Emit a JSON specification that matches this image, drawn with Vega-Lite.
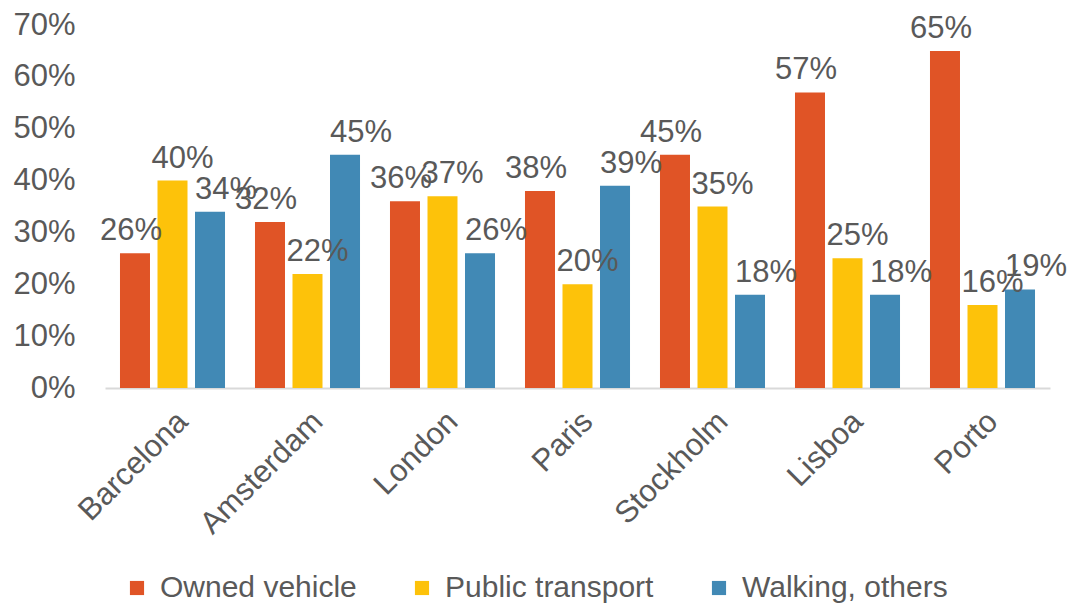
{
  "$schema": "https://vega.github.io/schema/vega-lite/v6.json",
  "autosize": {"type": "none"},
  "padding": {"left": 105, "top": 25, "right": 21, "bottom": 216},
  "width": 945,
  "height": 363,
  "background": "white",
  "config": {
    "view": {"stroke": null},
    "font": "Liberation Sans"
  },
  "data": {
    "values": [
      {"city": "Barcelona", "mode": "Owned vehicle", "share": 0.26},
      {"city": "Barcelona", "mode": "Public transport", "share": 0.40},
      {"city": "Barcelona", "mode": "Walking, others", "share": 0.34},
      {"city": "Amsterdam", "mode": "Owned vehicle", "share": 0.32},
      {"city": "Amsterdam", "mode": "Public transport", "share": 0.22},
      {"city": "Amsterdam", "mode": "Walking, others", "share": 0.45},
      {"city": "London", "mode": "Owned vehicle", "share": 0.36},
      {"city": "London", "mode": "Public transport", "share": 0.37},
      {"city": "London", "mode": "Walking, others", "share": 0.26},
      {"city": "Paris", "mode": "Owned vehicle", "share": 0.38},
      {"city": "Paris", "mode": "Public transport", "share": 0.20},
      {"city": "Paris", "mode": "Walking, others", "share": 0.39},
      {"city": "Stockholm", "mode": "Owned vehicle", "share": 0.45},
      {"city": "Stockholm", "mode": "Public transport", "share": 0.35},
      {"city": "Stockholm", "mode": "Walking, others", "share": 0.18},
      {"city": "Lisboa", "mode": "Owned vehicle", "share": 0.57},
      {"city": "Lisboa", "mode": "Public transport", "share": 0.25},
      {"city": "Lisboa", "mode": "Walking, others", "share": 0.18},
      {"city": "Porto", "mode": "Owned vehicle", "share": 0.65},
      {"city": "Porto", "mode": "Public transport", "share": 0.16},
      {"city": "Porto", "mode": "Walking, others", "share": 0.19}
    ]
  },
  "encoding": {
    "x": {
      "field": "city",
      "type": "nominal",
      "sort": null,
      "scale": {"paddingInner": 0.222, "paddingOuter": 0.111},
      "axis": {
        "title": null,
        "labelAngle": -45,
        "labelFontSize": 31,
        "labelColor": "#595959",
        "labelPadding": 18,
        "labelOverlap": false,
        "ticks": false,
        "domainColor": "#D9D9D9",
        "domainWidth": 2
      }
    },
    "xOffset": {
      "field": "mode",
      "type": "nominal",
      "scale": {"paddingInner": 0.2, "paddingOuter": 0}
    },
    "y": {
      "field": "share",
      "type": "quantitative",
      "scale": {"domain": [0, 0.7], "nice": false},
      "axis": {
        "title": null,
        "format": ".0%",
        "values": [0, 0.1, 0.2, 0.3, 0.4, 0.5, 0.6, 0.7],
        "labelOverlap": false,
        "labelFontSize": 31,
        "labelColor": "#595959",
        "labelPadding": 30,
        "ticks": false,
        "domain": false,
        "grid": false
      }
    }
  },
  "layer": [
    {
      "mark": {"type": "bar"},
      "encoding": {
        "color": {
          "field": "mode",
          "type": "nominal",
          "scale": {
            "domain": ["Owned vehicle", "Public transport", "Walking, others"],
            "range": ["#E05426", "#FDC20A", "#4189B5"]
          },
          "legend": {
            "title": null,
            "orient": "none",
            "direction": "horizontal",
            "legendX": 17,
            "legendY": 548,
            "symbolType": "square",
            "symbolSize": 200,
            "symbolStrokeWidth": 0,
            "symbolOpacity": 1,
            "labelFontSize": 30,
            "labelColor": "#595959",
            "labelOffset": 8,
            "columnPadding": 50,
            "labelLimit": 400
          }
        }
      }
    },
    {
      "transform": [{"filter": "datum.mode === 'Owned vehicle'"}],
      "mark": {"type": "text", "baseline": "bottom", "dy": -6, "dx": -4, "fontSize": 31, "color": "#595959"},
      "encoding": {
        "text": {"field": "share", "type": "quantitative", "format": ".0%"}
      }
    },
    {
      "transform": [{"filter": "datum.mode === 'Public transport'"}],
      "mark": {"type": "text", "baseline": "bottom", "dy": -6, "dx": 10, "fontSize": 31, "color": "#595959"},
      "encoding": {
        "text": {"field": "share", "type": "quantitative", "format": ".0%"}
      }
    },
    {
      "transform": [{"filter": "datum.mode === 'Walking, others'"}],
      "mark": {"type": "text", "baseline": "bottom", "dy": -6, "dx": 16, "fontSize": 31, "color": "#595959"},
      "encoding": {
        "text": {"field": "share", "type": "quantitative", "format": ".0%"}
      }
    }
  ]
}
